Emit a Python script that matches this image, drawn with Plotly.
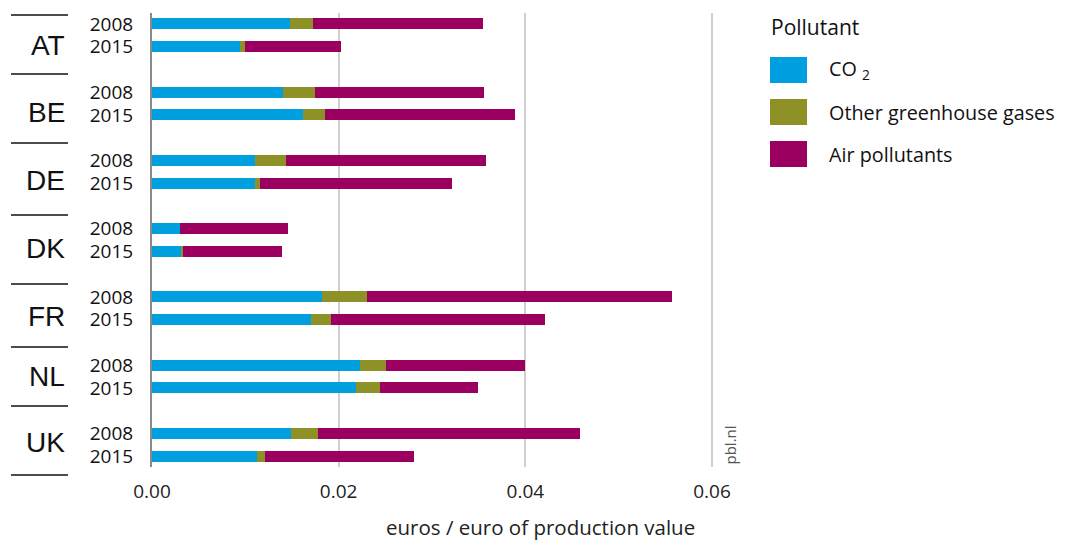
import plotly.graph_objects as go

countries = ["AT", "BE", "DE", "DK", "FR", "NL", "UK"]
years = ["2008", "2015"]
series_names = ["CO<sub>2</sub>", "Other greenhouse gases", "Air pollutants"]
series_colors = ["#009FE0", "#8E9126", "#9B0060"]

co2_2008 = [0.0148, 0.0140, 0.0110, 0.0030, 0.0182, 0.0223, 0.0149]
co2_2015 = [0.0094, 0.0162, 0.0110, 0.0032, 0.0170, 0.0219, 0.0113]
ghg_2008 = [0.0025, 0.0035, 0.0034, 0.0000, 0.0048, 0.0028, 0.0029]
ghg_2015 = [0.0006, 0.0023, 0.0006, 0.0001, 0.0022, 0.0025, 0.0008]
air_2008 = [0.0182, 0.0181, 0.0214, 0.0116, 0.0327, 0.0149, 0.0281]
air_2015 = [0.0103, 0.0204, 0.0205, 0.0106, 0.0229, 0.0105, 0.0160]

x_ticks = [0.0, 0.02, 0.04, 0.06]
x_title = "euros / euro of production value"
legend_title = "Pollutant"
source_text = "pbl.nl"

# page geometry (the page body adds an 8px margin)
OFF = 8
W, H = 1068 - OFF, 541 - OFF
PL, PR, PT, PB = 152, 714, 13, 467          # plot box in window pixels
ML, MT = PL - OFF, PT - OFF
MR, MB = W - (PR - OFF), H - (PB - OFF)
PW, PH = PR - PL, PB - PT
XMAX = 0.06 * PW / 560.0

def pxx(px):
    return (px - PL) / PW

def pxy(py):
    return 1 - (py - PT) / PH

# row positions: 3 slots per country (2008, 2015, gap)
def rows(yi):
    return [3 * g + yi for g in range(len(countries))]

data_by_year = {
    0: [co2_2008, ghg_2008, air_2008],
    1: [co2_2015, ghg_2015, air_2015],
}

fig = go.Figure()
for s in range(3):
    xs, ys = [], []
    for yi in (0, 1):
        xs += data_by_year[yi][s]
        ys += rows(yi)
    fig.add_trace(go.Bar(
        x=xs, y=ys, orientation="h", width=0.48,
        marker=dict(color=series_colors[s], line=dict(width=0)),
        name=series_names[s], showlegend=False,
    ))

tickvals, ticktext = [], []
for g in range(len(countries)):
    for yi, yr in enumerate(years):
        tickvals.append(3 * g + yi)
        ticktext.append(yr)

fig.update_layout(
    width=W, height=H,
    margin=dict(l=ML, r=MR, t=MT, b=MB, autoexpand=False),
    barmode="stack",
    plot_bgcolor="white", paper_bgcolor="white",
    font=dict(family="Open Sans", color="#222222"),
    xaxis=dict(
        range=[0, XMAX], tickvals=x_ticks, tickformat=".2f",
        showgrid=True, gridcolor="#CFCFCF", gridwidth=1.5,
        zeroline=False, showline=False, ticks="",
        ticklabelstandoff=11,
        tickfont=dict(family="Open Sans", size=19, color="#222222"),
    ),
    yaxis=dict(
        range=[19.48, -0.48], tickvals=tickvals, ticktext=ticktext,
        showgrid=False, zeroline=False, showline=True,
        linecolor="#8A8A8A", linewidth=2, ticks="",
        ticklabelstandoff=13,
        tickfont=dict(family="Open Sans", size=19, color="#111111"),
    ),
)

# country separator lines and labels (left column)
sep_px = [15, 74, 143, 215, 284, 347, 406, 475]
for py in sep_px:
    fig.add_shape(type="line", xref="paper", yref="paper",
                  x0=pxx(11), x1=pxx(68), y0=pxy(py), y1=pxy(py),
                  line=dict(color="#111111", width=1.5))

label_px = [45, 112, 180, 248, 316, 376, 442]
for c, py in zip(countries, label_px):
    fig.add_annotation(text=c, xref="paper", yref="paper",
                       x=pxx(67), y=pxy(py), xanchor="right", yanchor="middle",
                       showarrow=False,
                       font=dict(family="Liberation Sans", size=28, color="#111111"))

# axis title
fig.add_annotation(text=x_title, xref="paper", yref="paper",
                   x=pxx(540), y=pxy(527), xanchor="center", yanchor="middle",
                   showarrow=False,
                   font=dict(family="Open Sans", size=20.5, color="#222222"))

# source text
fig.add_annotation(text=source_text, xref="x", yref="paper",
                   x=0.06, y=0, xanchor="left", yanchor="bottom",
                   xshift=5, textangle=-90, showarrow=False,
                   font=dict(family="Open Sans", size=15, color="#555555"))

# custom legend
fig.add_annotation(text=legend_title, xref="paper", yref="paper",
                   x=pxx(769), y=pxy(27), xanchor="left", yanchor="middle",
                   showarrow=False,
                   font=dict(family="Open Sans", size=21, color="#111111"))
leg_top = [57, 99, 141]
for s in range(3):
    t = leg_top[s]
    fig.add_shape(type="rect", xref="paper", yref="paper",
                  x0=pxx(770), x1=pxx(807), y0=pxy(t), y1=pxy(t + 26),
                  fillcolor=series_colors[s], line=dict(width=0))
    fig.add_annotation(text=series_names[s].replace("<sub>", " <sub>"),
                       xref="paper", yref="paper",
                       x=pxx(827), y=pxy(t + 13), xanchor="left", yanchor="middle",
                       showarrow=False,
                       font=dict(family="Open Sans", size=19.8, color="#111111"))

fig.write_html("out.html")
